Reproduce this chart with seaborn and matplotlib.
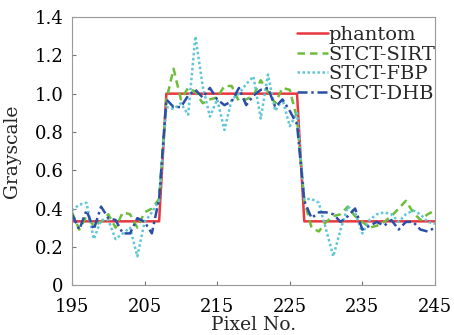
import numpy as np
import pandas as pd
import matplotlib
matplotlib.use("Agg")
import matplotlib.pyplot as plt
import seaborn as sns

pixels = list(range(195, 246))

phantom = [0.333] * 13 + [1.0] * 19 + [0.333] * 19

sirt = [0.38, 0.29, 0.36, 0.31, 0.33, 0.37, 0.30, 0.38, 0.37, 0.30, 0.38, 0.40, 0.45,
        0.97, 1.13, 0.97, 1.03, 1.01, 0.95, 0.97, 0.98, 1.04, 1.04, 0.96, 0.97, 0.99,
        1.07, 1.01, 0.95, 1.03, 1.02, 0.87,
        0.44, 0.30, 0.28, 0.33, 0.36, 0.37, 0.41, 0.36, 0.33, 0.30, 0.31, 0.33, 0.36,
        0.40, 0.44, 0.38, 0.34, 0.37, 0.39]

fbp = [0.39, 0.42, 0.43, 0.24, 0.34, 0.34, 0.24, 0.27, 0.30, 0.15, 0.33, 0.38, 0.44,
       0.93, 0.92, 0.95, 0.89, 1.30, 1.04, 0.88, 0.97, 0.81, 0.97, 1.00, 1.05, 1.09,
       0.87, 1.10, 0.91, 0.97, 0.83, 0.90,
       0.45, 0.45, 0.43, 0.29, 0.15, 0.29, 0.41, 0.38, 0.27, 0.34, 0.37, 0.38, 0.37,
       0.33, 0.37, 0.39, 0.37, 0.33, 0.32]

dhb = [0.37, 0.29, 0.39, 0.29, 0.41, 0.35, 0.34, 0.27, 0.27, 0.35, 0.33, 0.27, 0.45,
       0.97, 0.93, 0.93, 0.99, 1.02, 0.98, 1.03, 0.97, 0.94, 0.96, 1.03, 0.94, 0.99,
       1.02, 1.03, 0.93, 0.97, 0.91, 0.84,
       0.44, 0.35, 0.38, 0.38, 0.37, 0.33, 0.36, 0.40, 0.29, 0.31, 0.33, 0.31, 0.34,
       0.29, 0.33, 0.33, 0.29, 0.28, 0.30]

series_names = ["phantom", "STCT-SIRT", "STCT-FBP", "STCT-DHB"]
series_vals = [phantom, sirt, fbp, dhb]
colors = ["#e8373f", "#6cbd3c", "#5fc6d6", "#2b4ea6"]
dash_styles = ["", (3, 2), (1, 1), (4, 1.5, 1, 1.5)]

df = pd.concat([pd.DataFrame({"Pixel": pixels, "Grayscale": v, "series": n})
                for n, v in zip(series_names, series_vals)], ignore_index=True)

sns.set_style("ticks")
plt.rcParams["font.family"] = ["DejaVu Serif"]

fig = plt.figure(figsize=(4.54, 3.35), dpi=100)
ax = fig.add_axes([0.1586, 0.149, 0.7994, 0.8])

sns.lineplot(data=df, x="Pixel", y="Grayscale", hue="series", style="series",
             hue_order=series_names, style_order=series_names,
             palette=colors, dashes=dash_styles, linewidth=1.8, ax=ax)

ax.set_xlim(195, 245)
ax.set_ylim(0, 1.4)
ax.set_xticks([195, 205, 215, 225, 235, 245])
ax.set_yticks([0, 0.2, 0.4, 0.6, 0.8, 1.0, 1.2, 1.4])
ax.set_yticklabels(["0", "0.2", "0.4", "0.6", "0.8", "1.0", "1.2", "1.4"])
ax.tick_params(direction="in", length=3, labelsize=13, colors="#777777", labelcolor="black")
ax.tick_params(axis="x", pad=9)
ax.tick_params(axis="y", pad=6)
ax.set_xlabel("Pixel No.", fontsize=13.5, labelpad=0)
ax.set_ylabel("Grayscale", fontsize=13.5, labelpad=10)
for s in ax.spines.values():
    s.set_color("#999999")
    s.set_linewidth(0.8)

leg = ax.legend(loc="upper right", bbox_to_anchor=(1.015, 0.985), frameon=False,
                fontsize=14, handlelength=1.6, handletextpad=0.05,
                labelspacing=0.08, borderaxespad=0.1, borderpad=0.15)

fig.savefig("out.png", dpi=100)
